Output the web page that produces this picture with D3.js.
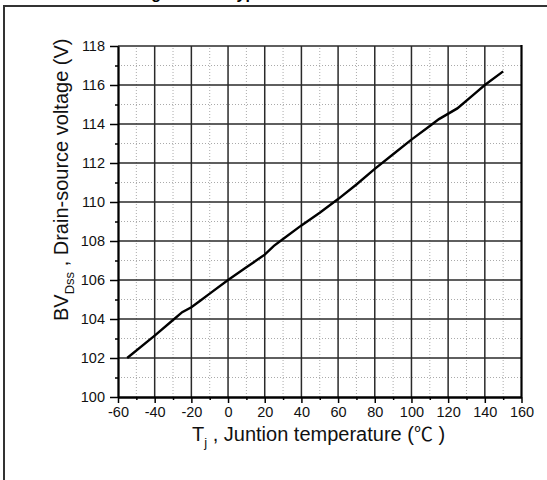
<!DOCTYPE html>
<html>
<head>
<meta charset="utf-8">
<title>BVdss vs Tj</title>
<script src="https://d3js.org/d3.v7.min.js"></script>
<style>
  body { margin: 0; background: #fff; }
  svg { display: block; font-family: "Liberation Sans", Arial, sans-serif; }
</style>
</head>
<body>
<svg width="547" height="480"></svg>
<script>
// data
const tempC = [-55, -40, -30, -25, -20, -15, -10, 0, 10, 20, 25, 30, 40, 50, 60, 70, 80, 90, 100, 110, 115, 125, 135, 140, 150];
const bvDss = [102.0, 103.15, 103.95, 104.35, 104.6, 104.95, 105.3, 106.0, 106.65, 107.3, 107.75, 108.1, 108.8, 109.45, 110.15, 110.9, 111.7, 112.45, 113.2, 113.9, 114.25, 114.8, 115.6, 116.0, 116.7];

const xMajor = [-60, -40, -20, 0, 20, 40, 60, 80, 100, 120, 140, 160];
const xMinor = [-50, -30, -10, 10, 30, 50, 70, 90, 110, 130, 150];
const yMajor = [100, 102, 104, 106, 108, 110, 112, 114, 116, 118];
const yMinor = [101, 103, 105, 107, 109, 111, 113, 115, 117];

const svg = d3.select("svg");

const x = d3.scaleLinear().domain([-60, 160]).range([118, 521.5]);
const y = d3.scaleLinear().domain([100, 118]).range([397, 46]);

// outer frame (runs off the right and bottom edges)
svg.append("path")
    .attr("d", "M4,490 V6 H560")
    .attr("fill", "none")
    .attr("stroke", "#333")
    .attr("stroke-width", 2);

// caption, mostly above the top edge like in the scan
svg.append("text")
    .attr("x", 137).attr("y", -1)
    .attr("font-size", 16).attr("font-weight", "bold")
    .text("Fig.");
svg.append("text")
    .attr("x", 228).attr("y", -1)
    .attr("font-size", 16).attr("font-weight", "bold")
    .text("Typ");

// minor grid, dotted
svg.append("g").selectAll("line").data(xMinor).enter().append("line")
    .attr("x1", d => x(d)).attr("x2", d => x(d))
    .attr("y1", y(100)).attr("y2", y(118))
    .attr("stroke", "#aaa").attr("stroke-dasharray", "1,2");
svg.append("g").selectAll("line").data(yMinor).enter().append("line")
    .attr("y1", d => y(d)).attr("y2", d => y(d))
    .attr("x1", x(-60)).attr("x2", x(160))
    .attr("stroke", "#aaa").attr("stroke-dasharray", "1,2");

// major grid
svg.append("g").selectAll("line").data(xMajor.slice(1, -1)).enter().append("line")
    .attr("x1", d => x(d)).attr("x2", d => x(d))
    .attr("y1", y(100)).attr("y2", y(118))
    .attr("stroke", "#2a2a2a").attr("stroke-width", 1.5);
svg.append("g").selectAll("line").data(yMajor.slice(1)).enter().append("line")
    .attr("y1", d => y(d)).attr("y2", d => y(d))
    .attr("x1", x(-60)).attr("x2", x(160))
    .attr("stroke", "#2a2a2a").attr("stroke-width", 1.5);

// right frame
svg.append("line")
    .attr("x1", x(160)).attr("x2", x(160))
    .attr("y1", y(118) - 1).attr("y2", y(100))
    .attr("stroke", "#000").attr("stroke-width", 2.2);

// axes
const leftMajor = svg.append("g").attr("transform", `translate(${x(-60)},0)`)
    .call(d3.axisLeft(y).tickValues(yMajor).tickSize(8).tickSizeOuter(0).tickPadding(5).tickFormat(d => d));
const leftMinor = svg.append("g").attr("transform", `translate(${x(-60)},0)`)
    .call(d3.axisLeft(y).tickValues(yMinor).tickSize(3).tickSizeOuter(0).tickFormat(""));
const bottomMajor = svg.append("g").attr("transform", `translate(0,${y(100)})`)
    .call(d3.axisBottom(x).tickValues(xMajor).tickSize(6).tickSizeOuter(0).tickPadding(4).tickFormat(d => d));
const bottomMinor = svg.append("g").attr("transform", `translate(0,${y(100)})`)
    .call(d3.axisBottom(x).tickValues(xMinor).tickSize(3).tickSizeOuter(0).tickFormat(""));

[leftMajor, leftMinor, bottomMajor, bottomMinor].forEach(g => {
    g.attr("font-size", null).attr("font-family", null);
    g.select(".domain").attr("stroke", "#000").attr("stroke-width", 1.8);
    g.selectAll(".tick line").attr("stroke", "#000").attr("stroke-width", 1.5);
    g.selectAll(".tick text")
        .style("font-family", "'Liberation Sans', Arial, sans-serif")
        .style("font-size", "14.5px")
        .style("fill", "#111");
});

// curve
const line = d3.line().x((d, i) => x(tempC[i])).y(d => y(d));
svg.append("path")
    .datum(bvDss)
    .attr("d", line)
    .attr("fill", "none")
    .attr("stroke", "#000")
    .attr("stroke-width", 2.4);

// x title
const xt = svg.append("text")
    .attr("x", 192).attr("y", 441)
    .attr("font-size", 20).attr("fill", "#111");
xt.append("tspan").text("T");
xt.append("tspan").attr("font-size", 13).attr("dy", 6).text("j");
xt.append("tspan").attr("dy", -6).text(" , Juntion temperature (");
xt.append("tspan").attr("font-family", "Noto Sans CJK SC").attr("font-size", 19).text("\u2103");
xt.append("tspan").text(" )");

// y title
const yt = svg.append("text")
    .attr("transform", "translate(68,321) rotate(-90)")
    .attr("font-size", 20).attr("fill", "#111");
yt.append("tspan").text("BV");
yt.append("tspan").attr("font-size", 13).attr("dy", 6).text("Dss");
yt.append("tspan").attr("dy", -6).text(" , Drain-source voltage (V)");
</script>
</body>
</html>
